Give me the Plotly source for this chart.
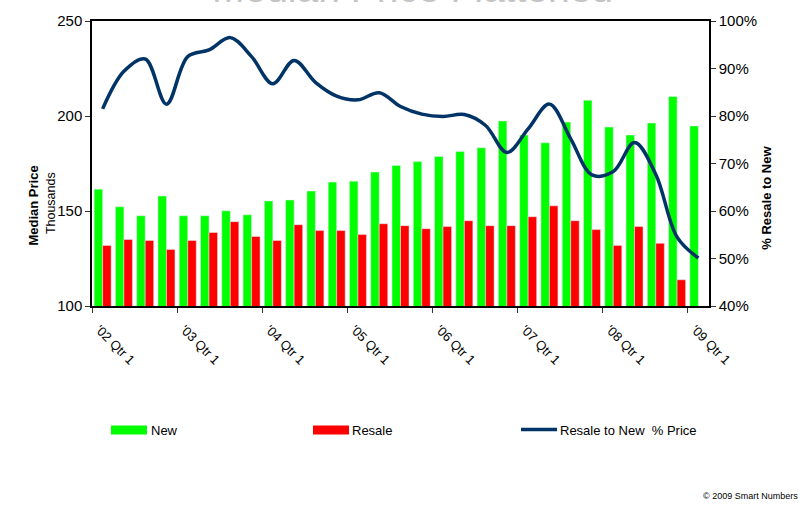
import plotly.graph_objects as go

# ---------------- data ----------------
quarters = [
    "'02 Qtr 1", "'02 Qtr 2", "'02 Qtr 3", "'02 Qtr 4",
    "'03 Qtr 1", "'03 Qtr 2", "'03 Qtr 3", "'03 Qtr 4",
    "'04 Qtr 1", "'04 Qtr 2", "'04 Qtr 3", "'04 Qtr 4",
    "'05 Qtr 1", "'05 Qtr 2", "'05 Qtr 3", "'05 Qtr 4",
    "'06 Qtr 1", "'06 Qtr 2", "'06 Qtr 3", "'06 Qtr 4",
    "'07 Qtr 1", "'07 Qtr 2", "'07 Qtr 3", "'07 Qtr 4",
    "'08 Qtr 1", "'08 Qtr 2", "'08 Qtr 3", "'08 Qtr 4",
    "'09 Qtr 1",
]

new_price = [161.5, 152.2, 147.5, 157.9, 147.5, 147.5, 150.1, 148.0,
             155.3, 155.8, 160.5, 165.2, 165.7, 170.5, 174.0, 176.0,
             178.7, 181.3, 183.3, 197.4, 190.0, 185.9, 196.8, 208.3,
             194.2, 190.0, 196.3, 210.3, 194.8]

resale_price = [131.9, 135.0, 134.5, 129.8, 134.5, 138.7, 144.4, 136.6,
                134.5, 142.8, 139.7, 139.7, 137.6, 143.3, 142.3, 140.7,
                141.8, 144.9, 142.3, 142.3, 147.0, 152.7, 144.9, 140.2,
                131.9, 141.8, 133.0, 113.8, None]

resale_to_new_pct = [81.5, 89.4, 92.0, 82.5, 92.5, 93.9, 96.5, 92.5,
                     86.8, 91.7, 87.1, 84.2, 83.4, 84.9, 82.0, 80.4,
                     79.9, 80.3, 78.0, 72.3, 77.3, 82.5, 75.2, 67.6,
                     68.3, 74.4, 67.7, 54.5, 50.1]

left_ticks = [100, 150, 200, 250]
right_ticks = [40, 50, 60, 70, 80, 90, 100]
right_tick_text = [f"{v}%" for v in right_ticks]

# ---------------- layout helpers ----------------
W, H = 804, 509
L, R, T, B = 92, 95, 17, 202.5
PW, PH = W - L - R, H - T - B


def px_x(p):
    return (p - L) / PW


def px_y(p):
    return (H - B - p) / PH


FONT = "Arial, Liberation Sans, sans-serif"
GREEN = "#00FF00"
RED = "#FF0000"
NAVY = "#003366"

x_pos = list(range(len(quarters)))
tickvals = [i - 0.5 for i in range(0, len(quarters), 4)]
ticktext = quarters[::4]

fig = go.Figure()
fig.add_trace(go.Bar(x=x_pos, y=new_price, name="New", marker_color=GREEN,
                     customdata=quarters, hovertemplate="%{customdata}: %{y}<extra>New</extra>"))
fig.add_trace(go.Bar(x=x_pos, y=resale_price, name="Resale", marker_color=RED,
                     customdata=quarters, hovertemplate="%{customdata}: %{y}<extra>Resale</extra>"))
fig.add_trace(go.Scatter(x=x_pos, y=resale_to_new_pct, name="Resale to New  % Price",
                         mode="lines", line=dict(color=NAVY, width=3.5, shape="spline"),
                         yaxis="y2", customdata=quarters,
                         hovertemplate="%{customdata}: %{y}%<extra></extra>"))

fig.update_layout(
    width=W, height=H,
    margin=dict(l=L, r=R, t=T, b=B, pad=0),
    paper_bgcolor="white", plot_bgcolor="white",
    barmode="group", bargap=0.2, bargroupgap=0,
    showlegend=False,
    font=dict(family=FONT, color="black"),
    xaxis=dict(range=[-0.5, len(quarters) - 0.5], tickmode="array",
               tickvals=tickvals, ticktext=ticktext, tickangle=45,
               tickfont=dict(size=13), ticks="outside", ticklen=5,
               ticklabelstandoff=4, ticklabelshift=7,
               tickcolor="#333", showline=True, linecolor="black",
               linewidth=1.5, mirror=True, showgrid=False, zeroline=False),
    yaxis=dict(range=[100, 250], tickmode="array", tickvals=left_ticks,
               tickfont=dict(size=15),
               ticks="outside", ticklen=5, tickcolor="#333", showline=True,
               linecolor="black", linewidth=1.5, showgrid=False, zeroline=False),
    yaxis2=dict(range=[40, 100], tickmode="array", tickvals=right_ticks,
                ticktext=right_tick_text,
                tickfont=dict(size=15), overlaying="y", side="right",
                ticks="outside", ticklen=5, tickcolor="#333", showline=True,
                linecolor="black", linewidth=1.5, showgrid=False, zeroline=False),
)

annotations = [
    dict(text="Median Price Flattened", x=px_x(412), y=1, xref="paper", yref="paper",
         xanchor="center", yanchor="bottom", yshift=9, showarrow=False,
         font=dict(size=39, color="#c4c4c4")),
    dict(text="<b>Median Price</b>", x=px_x(24), y=px_y(205), xref="paper", yref="paper",
         textangle=-90, showarrow=False, font=dict(size=13)),
    dict(text="Thousands", x=px_x(42), y=px_y(202), xref="paper", yref="paper",
         textangle=-90, showarrow=False, font=dict(size=12.5)),
    dict(text="<b>% Resale to New</b>", x=px_x(776), y=px_y(196), xref="paper", yref="paper",
         textangle=-90, showarrow=False, font=dict(size=13)),
    dict(text="New", x=px_x(149), y=px_y(433), xref="paper", yref="paper",
         xanchor="left", yanchor="middle", showarrow=False, font=dict(size=13)),
    dict(text="Resale", x=px_x(350), y=px_y(433), xref="paper", yref="paper",
         xanchor="left", yanchor="middle", showarrow=False, font=dict(size=13)),
    dict(text="Resale to New  % Price", x=px_x(558), y=px_y(433), xref="paper", yref="paper",
         xanchor="left", yanchor="middle", showarrow=False, font=dict(size=13)),
    dict(text="© 2009 Smart Numbers", x=px_x(800), y=px_y(499), xref="paper", yref="paper",
         xanchor="right", yanchor="middle", showarrow=False, font=dict(size=9)),
]
fig.update_layout(annotations=annotations)

shapes = [
    dict(type="rect", xref="paper", yref="paper", x0=px_x(111), x1=px_x(147),
         y0=px_y(437), y1=px_y(428), fillcolor=GREEN, line=dict(width=0)),
    dict(type="rect", xref="paper", yref="paper", x0=px_x(313), x1=px_x(349),
         y0=px_y(437), y1=px_y(428), fillcolor=RED, line=dict(width=0)),
    dict(type="line", xref="paper", yref="paper", x0=px_x(521), x1=px_x(557),
         y0=px_y(432), y1=px_y(432), line=dict(color=NAVY, width=3.5)),
]
fig.update_layout(shapes=shapes)

fig.write_html("out.html",
               config={"displayModeBar": False},
               post_script="document.body.style.margin='0';"
                           "document.body.style.overflow='hidden';")
